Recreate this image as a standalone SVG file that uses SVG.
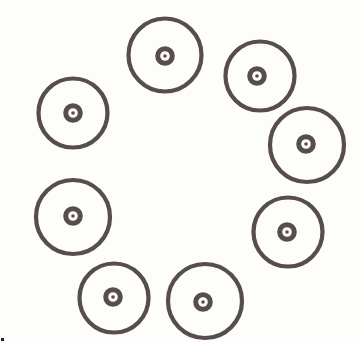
<svg xmlns="http://www.w3.org/2000/svg" width="360" height="342" viewBox="0 0 360 342">
<style>
.o{fill:none;stroke:#574d4c;stroke-width:4.2}
.i{fill:none;stroke:#574d4c;stroke-width:5}
.d{fill:#574d4c}
</style>
<rect width="360" height="342" fill="#fdfdf9"/>
<g id="n1"><circle class="o" cx="165" cy="55" r="36.5"/><circle class="i" cx="165" cy="56" r="7.3"/><circle class="d" cx="165" cy="56" r="1.8"/></g>
<g id="n2"><circle class="o" cx="260" cy="76" r="34.5"/><circle class="i" cx="257" cy="76" r="7.3"/><circle class="d" cx="257" cy="76" r="1.8"/></g>
<g id="n3"><circle class="o" cx="307" cy="145" r="37"/><circle class="i" cx="306" cy="144" r="7.3"/><circle class="d" cx="306" cy="144" r="1.8"/></g>
<g id="n4"><circle class="o" cx="288" cy="232" r="34.5"/><circle class="i" cx="287" cy="232" r="7.3"/><circle class="d" cx="287" cy="232" r="1.8"/></g>
<g id="n5"><circle class="o" cx="205" cy="301" r="37"/><circle class="i" cx="203" cy="302" r="7.3"/><circle class="d" cx="203" cy="302" r="1.8"/></g>
<g id="n6"><circle class="o" cx="114" cy="298" r="34.5"/><circle class="i" cx="113" cy="297" r="7.3"/><circle class="d" cx="113" cy="297" r="1.8"/></g>
<g id="n7"><circle class="o" cx="73" cy="217" r="37"/><circle class="i" cx="73" cy="216" r="7.3"/><circle class="d" cx="73" cy="216" r="1.8"/></g>
<g id="n8"><circle class="o" cx="73" cy="113" r="34.5"/><circle class="i" cx="73" cy="113" r="7.3"/><circle class="d" cx="73" cy="113" r="1.8"/></g>
<g id="connectors"></g>
<rect x="1" y="338" width="3" height="3" fill="#222"/>
</svg>
